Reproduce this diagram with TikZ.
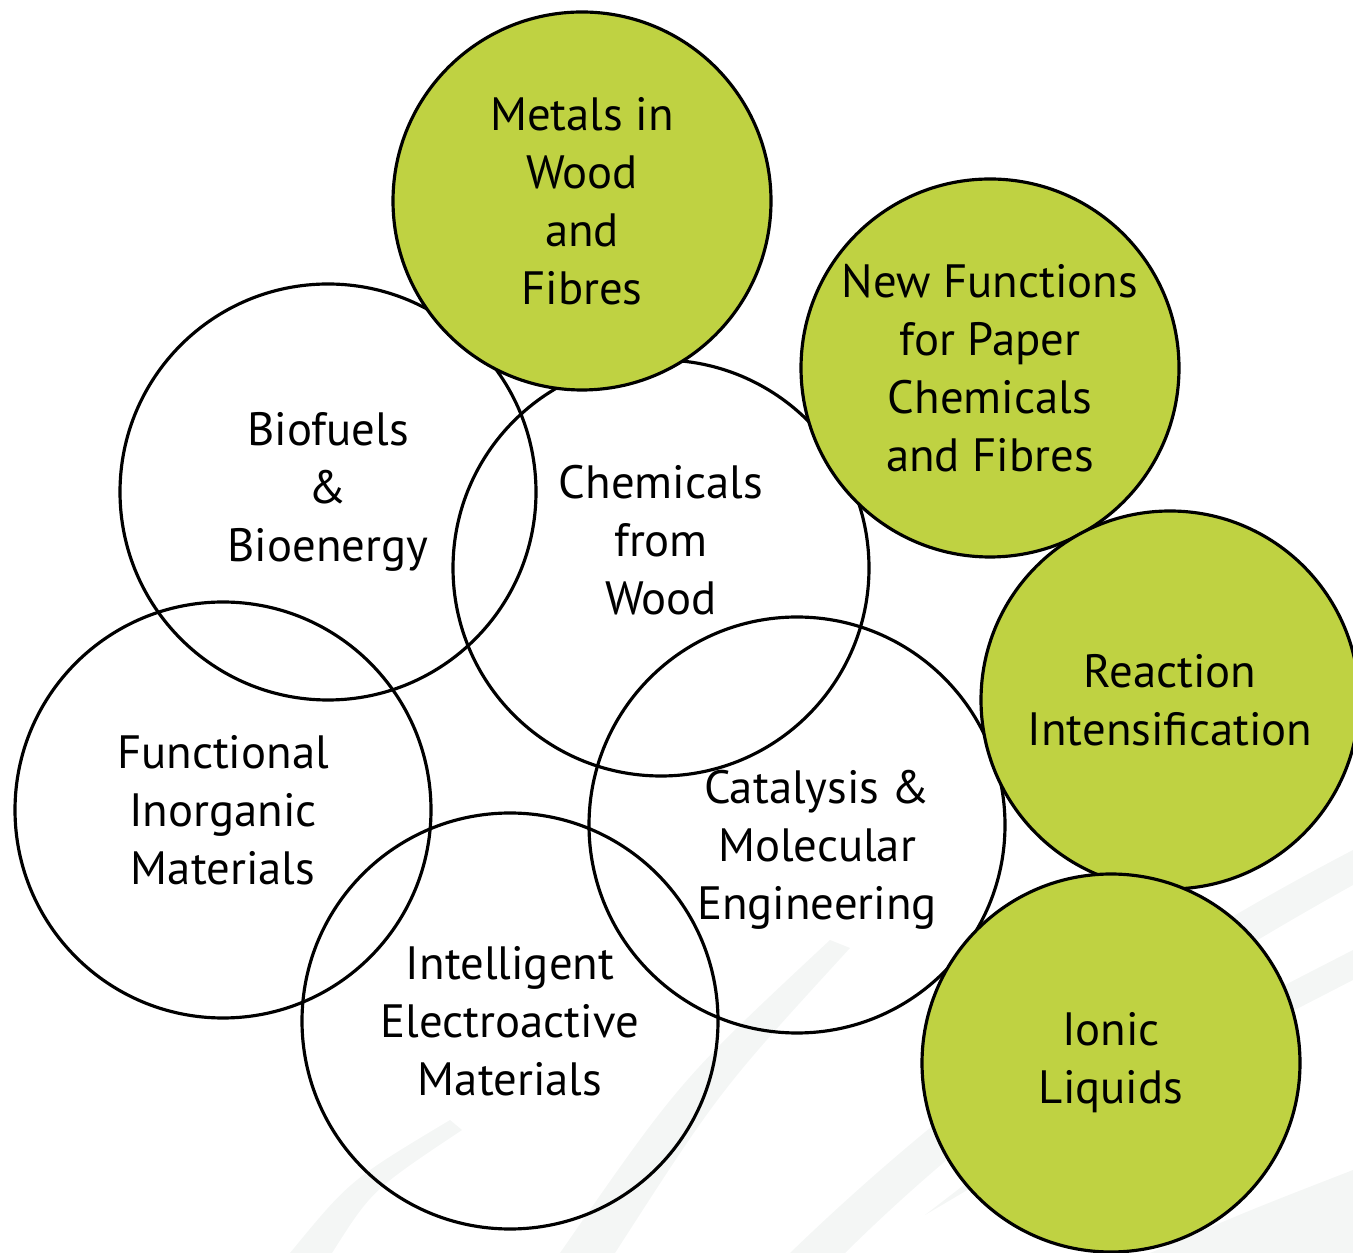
\documentclass[tikz,border=0pt]{standalone}
\usepackage{fontspec}
\setmainfont{PT Sans}

\definecolor{leaf}{RGB}{191,210,66}
\definecolor{swoosh}{RGB}{244,246,245}

\begin{document}
\begin{tikzpicture}[x=0.1mm, y=-0.1mm,
        topic/.style={circle, draw, line width=0.9pt, minimum size=41.6mm, inner sep=0pt,
            align=center, font=\fontsize{13.3}{16.5}\selectfont},
        theme/.style={topic, fill=leaf, minimum size=37.8mm},
        caption/.style={align=center, inner sep=0pt, font=\fontsize{13.3}{16.5}\selectfont}]
        \useasboundingbox (0,0) rectangle (1353,1253);

        % faint strokes in the background
        \fill[swoosh] (790,1253) .. controls (1000,1050) and (1200,930) .. (1353,850)
            -- (1353,885) .. controls (1210,965) and (1020,1080) .. (845,1253) -- cycle;
        \fill[swoosh] (925,1215) .. controls (1100,1080) .. (1353,950)
            -- (1353,980) .. controls (1120,1100) .. (925,1215) -- cycle;
        \fill[swoosh] (560,1253) .. controls (680,1080) .. (830,940)
            -- (850,948) .. controls (720,1090) .. (615,1253) -- cycle;
        \fill[swoosh] (290,1253) .. controls (350,1180) .. (450,1120)
            -- (462,1130) .. controls (372,1190) .. (332,1253) -- cycle;
        \fill[swoosh] (1150,1253) .. controls (1250,1210) .. (1353,1170) -- (1353,1253) -- cycle;

        % open circles
        \foreach \name/\x/\y/\txt in {bio/328/492/{Biofuels\\\&\\Bioenergy},
                inorg/223/810/{Functional\\Inorganic\\Materials},
                electro/510/1021/{Intelligent\\Electroactive\\Materials}} {
            \node[topic] (\name) at (\x,\y) {\txt};
        }
        \node[topic] (chem) at (661,568) {};
        \node[caption] (chemtext) at ([yshift=2.8mm]chem.center) {Chemicals\\from\\Wood};
        \node[topic] (cata) at (797,825) {};
        \node[caption] (catatext) at ([xshift=2mm, yshift=-2.5mm]cata.center) {Catalysis \&\\Molecular\\Engineering};

        % green circles on top
        \foreach \name/\x/\y/\txt in {metals/582/201/{Metals in\\Wood\\and\\Fibres},
                paper/990/368/{New Functions\\for Paper\\Chemicals\\and Fibres},
                react/1170/700/{Reaction\\Intensification},
                ionic/1111/1063/{Ionic\\Liquids}} {
            \node[theme] (\name) at (\x,\y) {\txt};
        }
    \end{tikzpicture}
\end{document}
